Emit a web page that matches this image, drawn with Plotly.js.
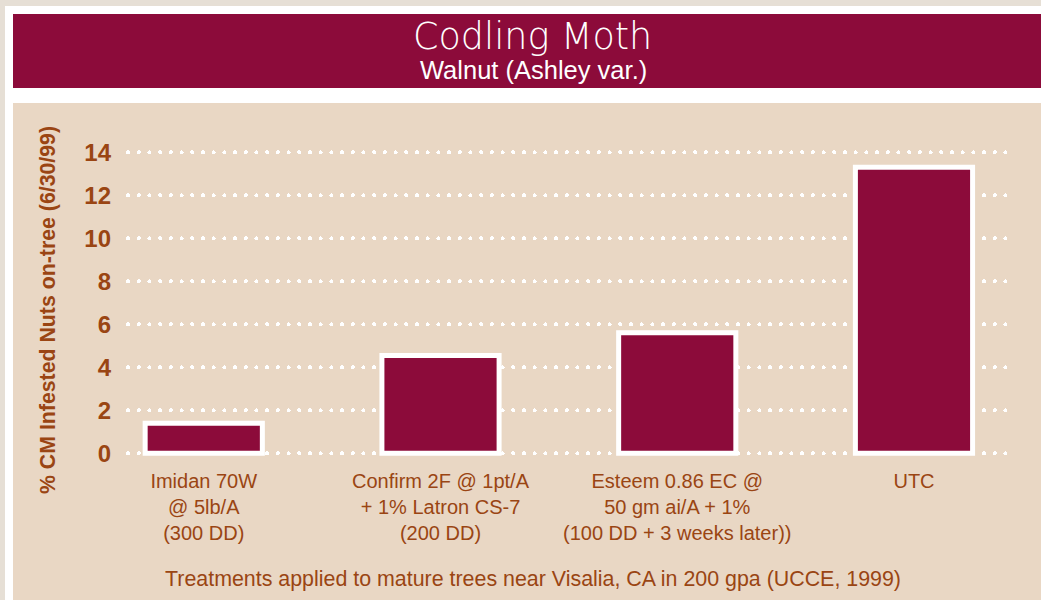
<!DOCTYPE html>
<html>
<head>
<meta charset="utf-8">
<script src="https://cdn.plot.ly/plotly-3.0.1.min.js"></script>
<style>
  html, body { margin: 0; padding: 0; width: 1041px; height: 600px; overflow: hidden; background: #e6dfd5; }
  #frame { position: absolute; left: 5px; top: 6px; width: 1036px; height: 594px; background: #ffffff; }
  #band { position: absolute; left: 13px; top: 14px; width: 1028px; height: 74px; background: #8c0b3a; }
  #panel { position: absolute; left: 13px; top: 103px; width: 1028px; height: 497px; background: #e9d7c4; }
  #chart { position: absolute; left: 0; top: 0; width: 1041px; height: 600px; }
  .gridlayer path { stroke-linecap: round; }
</style>
</head>
<body>
<div id="frame"></div>
<div id="band"></div>
<div id="panel"></div>
<div id="chart"></div>
<script>
const categories = [
  "Imidan 70W<br>@ 5lb/A<br>(300 DD)",
  "Confirm 2F @ 1pt/A<br>+ 1% Latron CS-7<br>(200 DD)",
  "Esteem 0.86 EC @<br>50 gm ai/A + 1%<br>(100 DD + 3 weeks later))",
  "UTC"
];
const infestedPct = [1.4, 4.55, 5.6, 13.3];
const yTickVals = [0, 2, 4, 6, 8, 10, 12, 14];

const brown = "#9a4513";
const maroon = "#8c0b3a";

const trace = {
  type: "bar",
  x: categories,
  y: infestedPct,
  marker: { color: maroon, line: { color: "#ffffff", width: 5 } },
  cliponaxis: false,
  hoverinfo: "skip"
};

const layout = {
  width: 1041,
  height: 600,
  paper_bgcolor: "rgba(0,0,0,0)",
  plot_bgcolor: "rgba(0,0,0,0)",
  margin: { l: 128, r: 29, t: 140, b: 142 },
  showlegend: false,
  bargap: 0.505,
  xaxis: {
    type: "category",
    range: [-0.32, 3.414],
    showgrid: false,
    zeroline: false,
    showline: false,
    ticks: "outside",
    ticklen: 5,
    tickcolor: "rgba(0,0,0,0)",
    tickfont: { family: "Liberation Sans, Arial, sans-serif", size: 20, color: brown }
  },
  yaxis: {
    range: [-0.22, 14.57],
    tickvals: yTickVals,
    ticktext: yTickVals.map(String),
    showgrid: true,
    gridcolor: "#ffffff",
    gridwidth: 4,
    griddash: "0.1px,10.6px",
    zeroline: false,
    showline: false,
    ticks: "",
    ticklabelstandoff: 16,
    tickfont: { family: "Liberation Sans, Arial, sans-serif", size: 24, color: brown, weight: "bold" }
  },
  annotations: [
    {
      text: "Codling Moth",
      xref: "paper", yref: "paper",
      x: (532 - 128) / 884, y: (458 - 36) / 318,
      xanchor: "center", yanchor: "middle",
      showarrow: false,
      font: { family: "DejaVu Sans, sans-serif", size: 36.5, color: "#ffffff", weight: 200 }
    },
    {
      text: "Walnut (Ashley var.)",
      xref: "paper", yref: "paper",
      x: (533 - 128) / 884, y: (458 - 70) / 318,
      xanchor: "center", yanchor: "middle",
      showarrow: false,
      font: { family: "Liberation Sans, Arial, sans-serif", size: 25.5, color: "#ffffff" }
    },
    {
      text: "% CM Infested Nuts on-tree (6/30/99)",
      xref: "paper", yref: "paper",
      x: (48 - 128) / 884, y: (458 - 310) / 318,
      xanchor: "center", yanchor: "middle",
      textangle: -90,
      showarrow: false,
      font: { family: "Liberation Sans, Arial, sans-serif", size: 21.3, color: brown, weight: "bold" }
    },
    {
      text: "Treatments applied to mature trees near Visalia, CA in 200 gpa (UCCE, 1999)",
      xref: "paper", yref: "paper",
      x: (533 - 128) / 884, y: (458 - 579) / 318,
      xanchor: "center", yanchor: "middle",
      showarrow: false,
      font: { family: "Liberation Sans, Arial, sans-serif", size: 21.4, color: brown }
    }
  ]
};

Plotly.newPlot("chart", [trace], layout, { staticPlot: true, displayModeBar: false });
</script>
</body>
</html>
